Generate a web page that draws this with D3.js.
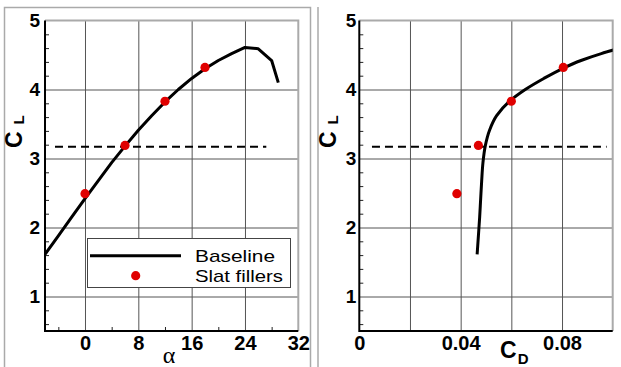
<!DOCTYPE html>
<html lang="en">
<head>
    <meta charset="UTF-8">
    <title>CL vs alpha and CD</title>
    <script src="https://d3js.org/d3.v7.min.js"></script>
    <style>
        body { margin: 0; background: #fff; }
        svg { display: block; font-family: "Liberation Sans", Arial, sans-serif; }
        .grid line { stroke: #555; stroke-width: 1; }
        .grid path { display: none; }
        .minor line { stroke: #222; stroke-width: 1; }
        .minor path { display: none; }
        .lab path, .lab line { display: none; }
        .lab text { font-size: 20px; font-weight: bold; fill: #000; font-family: "Liberation Sans", Arial, sans-serif; }
    </style>
</head>
<body>
    <script>
        // Baseline lift curve (alpha sweep)
        const alphaBase = [-6, -4, -2, 0, 2, 4, 6, 8, 10, 12, 14, 16, 18, 20, 22, 24, 26, 28, 29];
        const clBase = [1.61, 1.88, 2.15, 2.42, 2.68, 2.94, 3.18, 3.41, 3.62, 3.82, 4.00, 4.16, 4.30, 4.42, 4.52, 4.61, 4.59, 4.42, 4.10];
        // drag polar of the baseline (same CL points, up to the edge of the plot)
        const cdBase = [0.0465, 0.0470, 0.0475, 0.0479, 0.0483, 0.0488, 0.0497, 0.0514, 0.0542, 0.0590, 0.0655, 0.0728, 0.0800, 0.0875, 0.0955, 0.104];
        const clPolar = [1.61, 1.88, 2.15, 2.42, 2.68, 2.94, 3.18, 3.41, 3.62, 3.82, 4.00, 4.16, 4.30, 4.42, 4.52, 4.61];

        // Slat fillers points
        const alphaSlat = [0, 6, 12, 18];
        const clSlat = [2.49, 3.19, 3.83, 4.32];
        const cdSlat = [0.0385, 0.0470, 0.0600, 0.0805];

        // target CL (dashed)
        const clTarget = 3.17;
        const alphaTargetRange = [-4.5, 27.2];
        const cdTargetRange = [0.005, 0.0976];

        const alphaTicks = [0, 8, 16, 24, 32];
        const alphaGrid = [0, 8, 16, 24];
        const alphaMinor = [-4, 4, 12, 20, 28];
        const cdTicks = [0, 0.04, 0.08];
        const cdGrid = [0.02, 0.04, 0.06, 0.08];
        const clTicks = [1, 2, 3, 4, 5];
        const clGrid = [1, 2, 3, 4];
        const clMinor = d3.range(6, 50, 2).map(v => v / 10).filter(v => v % 1 !== 0);

        const W = 621, H = 367;
        const svg = d3.select("body").append("svg")
            .attr("width", W)
            .attr("height", H);

        svg.append("rect").attr("width", W).attr("height", H).attr("fill", "#fff");

        // panel borders
        svg.append("path")
            .attr("d", "M4.5,367 V7.5 H310.5 V367")
            .attr("fill", "none").attr("stroke", "#aaa").attr("stroke-width", 1.5);
        svg.append("line")
            .attr("x1", 318).attr("x2", 318).attr("y1", 7).attr("y2", 367)
            .attr("stroke", "#aaa").attr("stroke-width", 1.5);

        const y = d3.scaleLinear().domain([0.5, 5]).range([331, 20.5]);
        const xA = d3.scaleLinear().domain([-6, 32]).range([45, 298.3]);
        const xD = d3.scaleLinear().domain([0, 0.1]).range([359.3, 612.7]);

        function panel(x, opts) {
            const g = svg.append("g");
            const [x0, x1] = x.range();
            const [y0, y1] = y.range();

            g.append("clipPath").attr("id", opts.id)
                .append("rect").attr("x", x0).attr("y", y1).attr("width", x1 - x0).attr("height", y0 - y1);

            // grid lines
            g.append("g").attr("class", "grid")
                .attr("transform", `translate(0,${y0})`)
                .call(d3.axisBottom(x).tickValues(opts.xGrid).tickSize(-(y0 - y1)).tickFormat(""));
            g.append("g").attr("class", "grid")
                .attr("transform", `translate(${x0},0)`)
                .call(d3.axisLeft(y).tickValues(clGrid).tickSize(-(x1 - x0)).tickFormat(""));

            // frame top/right
            g.append("path")
                .attr("d", `M${x0},${y1} H${x1} V${y0}`)
                .attr("fill", "none").attr("stroke", "#aaa").attr("stroke-width", 2);

            // minor ticks pointing inside
            g.append("g").attr("class", "minor")
                .attr("transform", `translate(${x0},0)`)
                .call(d3.axisLeft(y).tickValues(clMinor).tickSize(-4).tickFormat(""));
            if (opts.xMinor) {
                g.append("g").attr("class", "minor")
                    .attr("transform", `translate(0,${y0})`)
                    .call(d3.axisBottom(x).tickValues(opts.xMinor).tickSize(-4).tickFormat(""));
            }

            // axis lines
            g.append("path")
                .attr("d", `M${x0},${y1} V${y0} H${x1}`)
                .attr("fill", "none").attr("stroke", "#000").attr("stroke-width", 2);

            // tick labels
            g.append("g").attr("class", "lab")
                .attr("transform", `translate(0,${y0})`)
                .call(d3.axisBottom(x).tickValues(opts.xTicks).tickSize(0).tickPadding(5).tickFormat(opts.fmt));
            g.append("g").attr("class", "lab")
                .attr("transform", `translate(${x0},0)`)
                .call(d3.axisLeft(y).tickValues(clTicks).tickSize(0).tickPadding(opts.yPad).tickFormat(d3.format("d")))
                .selectAll("text").style("font-size", "19px");

            // y label C_L
            const yl = g.append("text")
                .attr("transform", `translate(${opts.ylx},148) rotate(-90)`)
                .attr("font-weight", "bold");
            yl.append("tspan").attr("font-size", 23).text("C");
            yl.append("tspan").attr("font-size", 15).attr("dx", 7).attr("dy", 2).text("L");

            return g;
        }

        // ---- left panel: CL vs alpha
        const gA = panel(xA, { id: "clipA", xGrid: alphaGrid, xMinor: alphaMinor, xTicks: alphaTicks, fmt: d3.format("d"), yPad: 5, ylx: 22 });

        gA.append("line")
            .attr("x1", xA(alphaTargetRange[0])).attr("x2", xA(alphaTargetRange[1]))
            .attr("y1", y(clTarget)).attr("y2", y(clTarget))
            .attr("stroke", "#000").attr("stroke-width", 2).attr("stroke-dasharray", "8,5");

        const lineA = d3.line()
            .x((d, i) => xA(alphaBase[i]))
            .y(d => y(d));
        gA.append("path")
            .datum(clBase)
            .attr("clip-path", "url(#clipA)")
            .attr("d", lineA)
            .attr("fill", "none").attr("stroke", "#000").attr("stroke-width", 3)
            .attr("stroke-linejoin", "round");

        gA.selectAll("circle.slat")
            .data(clSlat)
            .enter().append("circle")
            .attr("class", "slat")
            .attr("cx", (d, i) => xA(alphaSlat[i]))
            .attr("cy", d => y(d))
            .attr("r", 4.6)
            .attr("fill", "#e00000");

        gA.append("text")
            .attr("x", 169).attr("y", 363)
            .attr("text-anchor", "middle")
            .attr("font-family", "'Liberation Serif', serif")
            .attr("font-size", 24)
            .text("α");

        // legend
        const leg = gA.append("g");
        leg.append("rect")
            .attr("x", 87.5).attr("y", 238.5).attr("width", 203).attr("height", 49)
            .attr("fill", "#fff").attr("stroke", "#444").attr("stroke-width", 1);
        leg.append("line")
            .attr("x1", 90).attr("x2", 181).attr("y1", 255.7).attr("y2", 255.7)
            .attr("stroke", "#000").attr("stroke-width", 3);
        leg.append("circle")
            .attr("cx", 135.7).attr("cy", 275.7).attr("r", 4.6).attr("fill", "#e00000");
        leg.append("text")
            .attr("x", 195).attr("y", 261.5)
            .attr("font-size", 17).attr("textLength", 80).attr("lengthAdjust", "spacingAndGlyphs")
            .text("Baseline");
        leg.append("text")
            .attr("x", 195).attr("y", 282)
            .attr("font-size", 17).attr("textLength", 88).attr("lengthAdjust", "spacingAndGlyphs")
            .text("Slat fillers");

        // ---- right panel: CL vs CD
        const gD = panel(xD, { id: "clipD", xGrid: cdGrid, xMinor: null, xTicks: cdTicks, fmt: d => d === 0 ? "0" : d3.format(".2f")(d), yPad: 3, ylx: 336 });

        gD.append("line")
            .attr("x1", xD(cdTargetRange[0])).attr("x2", xD(cdTargetRange[1]))
            .attr("y1", y(clTarget)).attr("y2", y(clTarget))
            .attr("stroke", "#000").attr("stroke-width", 2).attr("stroke-dasharray", "8,5");

        const lineD = d3.line()
            .x((d, i) => xD(cdBase[i]))
            .y(d => y(d))
            .curve(d3.curveMonotoneY);
        gD.append("path")
            .datum(clPolar)
            .attr("clip-path", "url(#clipD)")
            .attr("d", lineD)
            .attr("fill", "none").attr("stroke", "#000").attr("stroke-width", 3);

        gD.selectAll("circle.slat")
            .data(clSlat)
            .enter().append("circle")
            .attr("class", "slat")
            .attr("cx", (d, i) => xD(cdSlat[i]))
            .attr("cy", d => y(d))
            .attr("r", 4.6)
            .attr("fill", "#e00000");

        const xl = gD.append("text")
            .attr("x", 500).attr("y", 358)
            .attr("font-weight", "bold");
        xl.append("tspan").attr("font-size", 23).text("C");
        xl.append("tspan").attr("font-size", 15).attr("dx", 1).attr("dy", 6).text("D");
    </script>
</body>
</html>
